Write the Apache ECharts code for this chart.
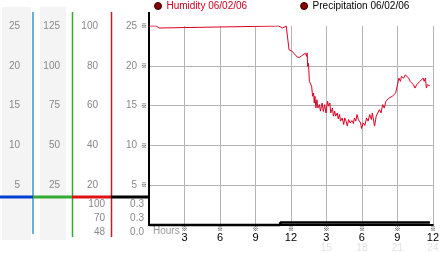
<!DOCTYPE html>
<html><head><meta charset="utf-8">
<script src="https://cdn.jsdelivr.net/npm/echarts@6/dist/echarts.min.js"></script>
<style>html,body{margin:0;padding:0;background:#fff}#c{width:442px;height:253px}</style>
</head><body><div id="c"></div>
<script>
// ---- data ----
const legendNames = ['Humidity 06/02/06', 'Precipitation 06/02/06'];
const humHours = [0,0.6,0.7,0.85,0.95,10.95,11.05,11.3,11.4,11.6,11.84,12.06,12.25,12.39,12.55,12.66,12.74,12.88,13.01,13.09,13.21,13.29,13.34,13.37,13.42,13.48,13.56,13.64,13.75,13.83,13.92,13.97,14.03,14.11,14.19,14.28,14.41,14.49,14.63,14.74,14.85,14.96,15.10,15.18,15.29,15.37,15.51,15.59,15.70,15.78,15.92,16.00,16.11,16.19,16.33,16.46,16.55,16.66,16.77,16.87,17.01,17.15,17.28,17.37,17.48,17.59,17.70,17.78,17.89,17.97,18.11,18.25,18.39,18.52,18.66,18.80,18.88,19.07,19.21,19.34,19.48,19.62,19.75,19.89,20.03,20.16,20.30,20.44,20.57,20.71,20.85,20.98,21.12,21.26,21.34,21.53,21.67,21.81,21.95,22.08,22.22,22.36,22.49,22.63,22.77,22.91,23.04,23.18,23.26,23.37,23.45,23.53,23.65,23.73];
const humidity = [100,100,99,99,100,100,99,99,100,100,88,87.5,86.3,85.5,84.3,83.3,84.3,83.8,85.5,84.7,86.3,87.2,84.7,86.5,79.7,81.3,72.2,73,69.7,64.7,66.3,61.3,64.7,58.8,63,58.8,60.5,57.2,61.3,57,60.5,56.3,62.2,59.7,61.3,56.3,58.8,54.7,57.2,54.7,56.3,53.3,55.5,52.2,53.8,50.5,53.8,52.2,49.7,53,51.3,52.5,51,53.8,52.2,55.5,53,53.8,51.3,48.5,51.3,50,53.8,52.2,55.5,53,56.3,49.7,54.7,53.8,58,56.3,60.5,58.8,62.2,61.3,63.8,63,64.7,63.8,66.3,69.7,73.8,72.2,74.7,73.8,75.5,76.3,73.8,72.2,73,70.5,68.8,70.5,71.3,72.2,73,73.8,72.2,73.8,68.8,70.5,69.7,70];
const precipHours = [0, 11.1, 11.1, 23.75];
const precipitation = [0, 0, 0.3, 0.3];
const humStats = ['100', '70', '48'];
const precipStats = ['0.3', '0.3', '0.0'];
const xTicks = [3, 6, 9, 12, 3, 6, 9, 12];
const xFaint = ['', '', '', '', '15', '18', '21', '24'];

// ---- chart ----
const FONT = 'Liberation Sans, Arial, sans-serif';
const pair = (xs, ys) => xs.map((x, i) => [x, ys[i]]);
const hideZero = v => (v === 0 ? '' : String(v));
const grayLbl = { color: '#888', fontSize: 10, fontFamily: FONT };

const gfx = [];
gfx.push({ type: 'rect', shape: { x: 2, y: 7, width: 29, height: 233 }, style: { fill: '#f4f4f4' }, z: -10 });
gfx.push({ type: 'rect', shape: { x: 40, y: 7, width: 26, height: 233 }, style: { fill: '#f4f4f4' }, z: -10 });
gfx.push({ type: 'line', shape: { x1: 33, y1: 12, x2: 33, y2: 234 }, style: { stroke: '#3399cc', lineWidth: 1.5 } });
gfx.push({ type: 'line', shape: { x1: 72.5, y1: 12, x2: 72.5, y2: 237 }, style: { stroke: '#33aa33', lineWidth: 1.5 } });
gfx.push({ type: 'line', shape: { x1: 111.5, y1: 12, x2: 111.5, y2: 237 }, style: { stroke: '#bb2222', lineWidth: 1.5 } });
[[0, 33, '#0040d0'], [33, 72, '#33aa33'], [72, 111, '#dd1111'], [111, 148, '#000']].forEach(s => {
  gfx.push({ type: 'line', shape: { x1: s[0], y1: 197, x2: s[1], y2: 197 }, style: { stroke: s[2], lineWidth: 3 } });
});
gfx.push({ type: 'line', shape: { x1: 149, y1: 12, x2: 149, y2: 27 }, style: { stroke: '#000', lineWidth: 2 } });
humStats.forEach((t, i) => gfx.push({ type: 'text', x: 105, y: 204 + i * 14, style: { text: t, fill: '#888', font: '10px ' + FONT, textAlign: 'right', textVerticalAlign: 'middle' } }));
precipStats.forEach((t, i) => gfx.push({ type: 'text', x: 144, y: 204 + i * 14, style: { text: t, fill: '#888', font: '10px ' + FONT, textAlign: 'right', textVerticalAlign: 'middle' } }));
gfx.push({ type: 'text', x: 153, y: 231, style: { text: 'Hours', fill: '#999', font: '10px ' + FONT, textAlign: 'left', textVerticalAlign: 'middle' } });

const chart = echarts.init(document.getElementById('c'), null, { renderer: 'canvas' });
chart.setOption({
  animation: false,
  backgroundColor: '#fff',
  legend: {
    left: 154, top: 1, padding: 0, itemWidth: 7, itemHeight: 7, itemGap: 53, icon: 'circle',
    textStyle: { fontSize: 10, fontFamily: FONT },
    data: [
      { name: legendNames[0], itemStyle: { color: '#8b0000', borderColor: '#300', borderWidth: 1 }, textStyle: { color: '#cc0022' } },
      { name: legendNames[1], itemStyle: { color: '#8b0000', borderColor: '#300', borderWidth: 1 }, textStyle: { color: '#000' } }
    ]
  },
  graphic: gfx,
  grid: { left: 149, right: 3, top: 26, bottom: 27, containLabel: false },
  xAxis: {
    type: 'value', min: 0, max: 24, interval: 3,
    axisLine: { show: true, lineStyle: { color: '#000', width: 2 } },
    axisTick: { show: false },
    splitLine: { show: true, lineStyle: { color: '#b4b4b4', width: 1 } },
    axisLabel: {
      margin: 1, showMinLabel: true, showMaxLabel: true,
      formatter: v => {
        const i = Math.round(v / 3) - 1;
        if (i < 0) return '';
        return '{m|※}\n{v|' + xTicks[i] + '}\n{f|' + (xFaint[i] || ' ') + '}';
      },
      rich: {
        m: { fontSize: 6, lineHeight: 6, color: '#000', fontFamily: 'Noto Sans CJK SC', align: 'center' },
        v: { fontSize: 11, lineHeight: 11, color: '#000', fontFamily: FONT, align: 'center' },
        f: { fontSize: 10, lineHeight: 10, color: '#e2e2e2', fontFamily: FONT, align: 'center' }
      }
    }
  },
  yAxis: [
    { type: 'value', min: 0, max: 25, interval: 5, position: 'left', offset: 0,
      axisLine: { show: true, lineStyle: { color: '#000', width: 2 } }, axisTick: { show: false },
      splitLine: { show: true, showMaxLine: false, showMinLine: false, lineStyle: { color: '#b4b4b4', width: 1 } },
      axisLabel: { margin: 2, formatter: v => (v === 0 ? '' : '{v|' + v + '}{m|※}'),
        rich: { v: grayLbl, m: { fontSize: 6, color: '#000', fontFamily: 'Noto Sans CJK SC', padding: [0, 0, 0, 4] } } } },
    { type: 'value', min: 0, max: 100, interval: 20, position: 'left', offset: 37,
      axisLine: { show: false }, axisTick: { show: false }, splitLine: { show: false },
      axisLabel: Object.assign({ margin: 14, formatter: hideZero }, grayLbl) },
    { type: 'value', min: 0, max: 125, interval: 25, position: 'left', offset: 76,
      axisLine: { show: false }, axisTick: { show: false }, splitLine: { show: false },
      axisLabel: Object.assign({ margin: 13, formatter: hideZero }, grayLbl) },
    { type: 'value', min: 0, max: 25, interval: 5, position: 'left', offset: 115,
      axisLine: { show: false }, axisTick: { show: false }, splitLine: { show: false },
      axisLabel: Object.assign({ margin: 14, formatter: hideZero }, grayLbl) }
  ],
  series: [
    { name: legendNames[0], type: 'line', yAxisIndex: 1, data: pair(humHours, humidity),
      showSymbol: false, symbol: 'none', color: '#dd0022', lineStyle: { color: '#dd0022', width: 1 }, z: 3 },
    { name: legendNames[1], type: 'line', yAxisIndex: 0, data: pair(precipHours, precipitation), clip: false,
      showSymbol: false, symbol: 'none', color: '#000', lineStyle: { color: '#000', width: 2.5 }, z: 4 }
  ]
});
</script>
</body></html>
